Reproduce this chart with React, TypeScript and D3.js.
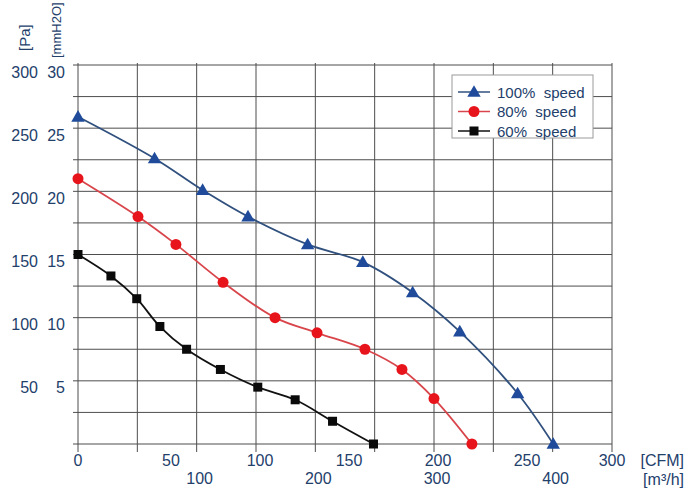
import React from 'react'
import * as d3 from 'd3'

// fan curves (x in CFM, y in Pa)
const cfm100 = [0, 43, 70, 95.5, 129, 160, 188, 214.5, 247, 267]
const pa100 = [259, 226, 201, 180, 158, 144, 120, 89, 40, 0]
const cfm80 = [0, 33.7, 55, 81.5, 110.7, 134.3, 161.2, 182, 200, 221.3]
const pa80 = [210, 180, 158, 128, 100, 88, 75, 59, 36, 0]
const cfm60 = [0, 18.5, 33, 46, 61, 80, 101, 122, 143, 166]
const pa60 = [150, 133, 115, 93, 75, 59, 45, 35, 18, 0]

const paTicks = [50, 100, 150, 200, 250, 300]
const mmTicks = [5, 10, 15, 20, 25, 30]
const cfmTicks = [0, 50, 100, 150, 200, 250, 300]
const m3hTicks = [100, 200, 300, 400]
const legendLabels = ['100%  speed', '80%  speed', '60%  speed']

const W = 694
const H = 493
const left = 78
const right = 612
const top = 65
const bottom = 444
const font = 'Liberation Sans, Arial, sans-serif'
const textColor = '#23406b'
const gridColor = '#4d4d4d'

const x = d3.scaleLinear().domain([0, 300]).range([left, right])
const xM3h = d3.scaleLinear().domain([0, 450]).range([left, right])
const y = d3.scaleLinear().domain([0, 300]).range([bottom, top])
const yMm = d3.scaleLinear().domain([0, 30]).range([bottom, top])

const series = [
  { cfm: cfm100, pa: pa100, line: '#30507e', fill: '#1f4b9a', marker: 'triangle' },
  { cfm: cfm80, pa: pa80, line: '#d8464c', fill: '#e8141c', marker: 'circle' },
  { cfm: cfm60, pa: pa60, line: '#111111', fill: '#0a0a0a', marker: 'square' },
]

function Marker({ kind, cx, cy, fill }: { kind: string; cx: number; cy: number; fill: string }) {
  if (kind === 'triangle') {
    const p = d3.symbol(d3.symbolTriangle, 78)()
    return <path d={p || ''} transform={`translate(${cx},${cy + 1})`} fill={fill} />
  }
  if (kind === 'circle') {
    return <circle cx={cx} cy={cy} r={5.5} fill={fill} />
  }
  return <rect x={cx - 4.5} y={cy - 4.5} width={9} height={9} fill={fill} />
}

export default function App() {
  const line = d3.line<[number, number]>()
    .x(d => x(d[0]))
    .y(d => y(d[1]))
    .curve(d3.curveCatmullRom.alpha(0.5))

  const hLines = d3.range(0, 301, 25)
  const vLines = d3.range(0, 451, 50)

  return (
    <svg width={W} height={H} style={{ position: 'absolute', left: 0, top: 0, background: '#fff' }}
      fontFamily={font}>
      <rect width={W} height={H} fill="#fff" />

      {/* grid */}
      {hLines.map(v => (
        <line key={'h' + v} x1={left - 5} x2={right} y1={y(v)} y2={y(v)} stroke={gridColor} strokeWidth={1} />
      ))}
      {vLines.map(v => (
        <line key={'v' + v} x1={xM3h(v)} x2={xM3h(v)} y1={top - 2} y2={bottom + 8} stroke={gridColor} strokeWidth={1} />
      ))}

      {/* y labels */}
      {paTicks.map(v => (
        <text key={'pa' + v} x={38} y={y(v) + 7} textAnchor="end" dominantBaseline="central"
          fontSize={16} fill={textColor}>{v}</text>
      ))}
      {mmTicks.map(v => (
        <text key={'mm' + v} x={65} y={yMm(v) + 7} textAnchor="end" dominantBaseline="central"
          fontSize={16} fill={textColor}>{v}</text>
      ))}
      <text transform="translate(30,51) rotate(-90)" fontSize={15} fill={textColor}>[Pa]</text>
      <text transform="translate(61,58) rotate(-90)" fontSize={13} fill={textColor}>[mmH2O]</text>

      {/* x labels */}
      {cfmTicks.map(v => (
        <text key={'c' + v} x={x(v) + (v > 0 && v < 300 ? 4 : 0)} y={460} textAnchor="middle" dominantBaseline="central"
          fontSize={16} fill={textColor}>{v}</text>
      ))}
      {m3hTicks.map(v => (
        <text key={'m' + v} x={xM3h(v) + 3} y={478} textAnchor="middle" dominantBaseline="central"
          fontSize={16} fill={textColor}>{v}</text>
      ))}
      <text x={684} y={460} textAnchor="end" dominantBaseline="central" fontSize={16} fill={textColor}>[CFM]</text>
      <text x={684} y={479} textAnchor="end" dominantBaseline="central" fontSize={16} fill={textColor}>[m³/h]</text>

      {/* curves */}
      {series.map((s, i) => {
        const pts = s.cfm.map((c, j) => [c, s.pa[j]] as [number, number])
        return (
          <g key={'s' + i}>
            <path d={line(pts) || ''} fill="none" stroke={s.line} strokeWidth={1.8} />
            {pts.map((p, j) => (
              <Marker key={j} kind={s.marker} cx={x(p[0])} cy={y(p[1])} fill={s.fill} />
            ))}
          </g>
        )
      })}

      {/* legend */}
      <rect x={452} y={75} width={141} height={63} fill="#fff" stroke="#9a9a9a" strokeWidth={1} />
      {series.map((s, i) => {
        const ly = 92 + i * 19.5
        return (
          <g key={'l' + i}>
            <line x1={458} x2={490} y1={ly} y2={ly} stroke={s.line} strokeWidth={1.5} />
            <Marker kind={s.marker} cx={474} cy={ly} fill={s.fill} />
            <text x={497} y={ly} dominantBaseline="central" fontSize={15} fill={textColor}
              style={{ whiteSpace: 'pre' }}>{legendLabels[i]}</text>
          </g>
        )
      })}
    </svg>
  )
}
